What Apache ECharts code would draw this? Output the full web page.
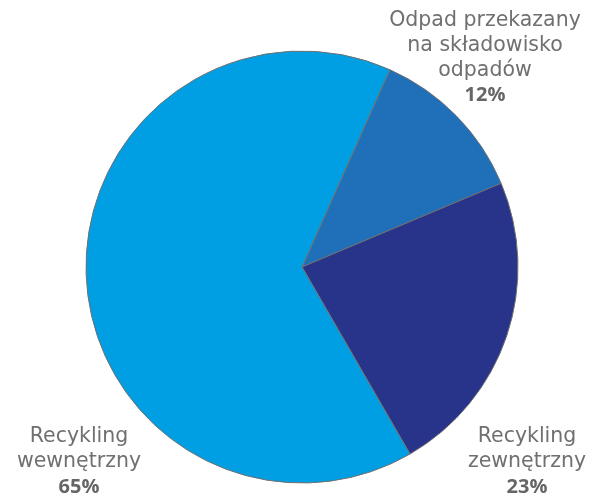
<!DOCTYPE html>
<html>
<head>
<meta charset="utf-8">
<script src="https://cdn.jsdelivr.net/npm/echarts@6/dist/echarts.min.js"></script>
<style>
html,body{margin:0;padding:0;background:#fff;}
#chart{width:592px;height:493px;}
</style>
</head>
<body>
<div id="chart"></div>
<script>
const categories = ['Odpad przekazany\nna składowisko\nodpadów', 'Recykling\nzewnętrzny', 'Recykling\nwewnętrzny'];
const values = [12, 23, 65];
const colors = ['#1F70B8', '#28338A', '#009FE3'];
const labelPos = [[485, 58], [527, 462], [79, 462]];

const chart = echarts.init(document.getElementById('chart'));
chart.setOption({
  animation: false,
  series: [{
    type: 'pie',
    center: [302, 267],
    radius: 216,
    startAngle: 66,
    clockwise: true,
    avoidLabelOverlap: false,
    data: categories.map((c, i) => ({ name: c, value: values[i], itemStyle: { color: colors[i] } })),
    itemStyle: { borderColor: '#707070', borderWidth: 1 },
    label: {
      show: true,
      position: 'outside',
      overflow: 'none',
      width: 300,
      formatter: p => p.name + '\n{b|' + p.value + '%}',
      color: '#707070',
      fontFamily: 'DejaVu Sans',
      fontWeight: 'normal',
      fontSize: 20.5,
      lineHeight: 25,
      align: 'center',
      rich: { b: { fontWeight: 'bold', fontSize: 20, lineHeight: 25, color: '#666666', fontFamily: 'Open Sans' } }
    },
    labelLine: { show: false },
    labelLayout: p => ({ x: labelPos[p.dataIndex][0], y: labelPos[p.dataIndex][1], align: 'center', verticalAlign: 'middle' }),
    emphasis: { disabled: true }
  }]
});
</script>
</body>
</html>
